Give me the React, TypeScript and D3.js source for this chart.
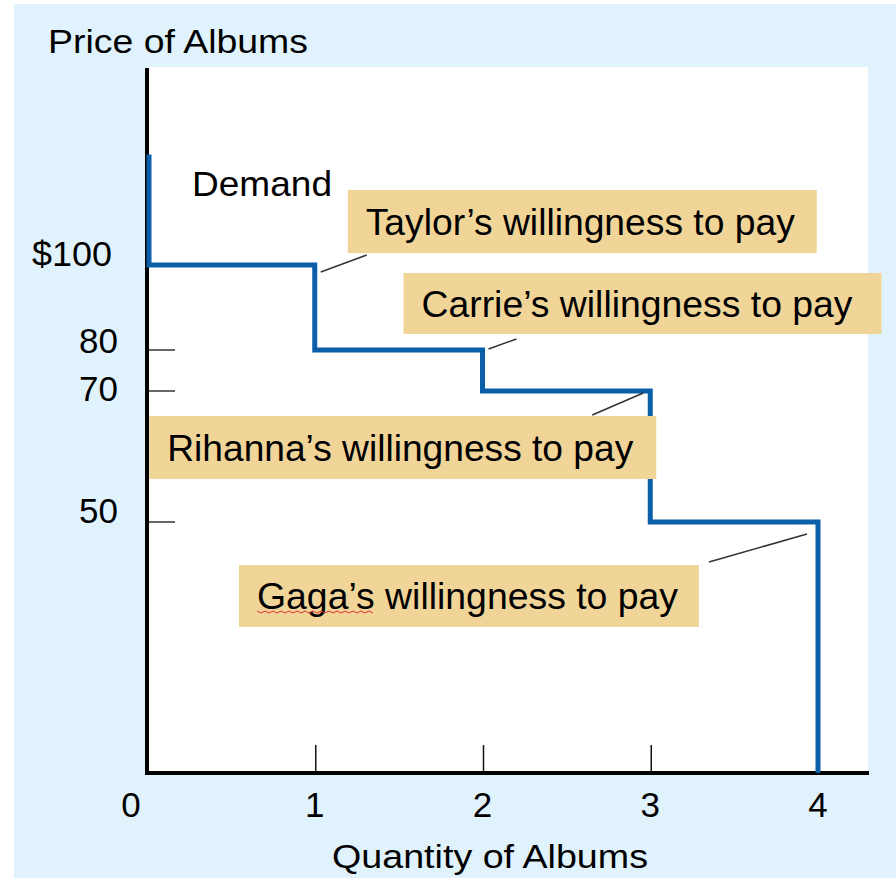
import React, { useEffect } from 'react';
import * as d3 from 'd3';

// Demand schedule: one album per buyer, ordered by willingness to pay
const buyers = ['Taylor', 'Carrie', 'Rihanna', 'Gaga'];
const willingness = [100, 80, 70, 50];
const quantityTicks = [0, 1, 2, 3, 4];
const priceTicks = [100, 80, 70, 50];
const priceTickLabels = ['$100', '80', '70', '50'];
const topPrice = 126; // where the demand curve starts above $100

// label placement relative to each step corner (layout only)
const labelLayout = [
  { dx: 33, dy: -75, w: 469, h: 63, tw: 429, lx1: 6, ly1: 7, lx2: 52, ly2: -10 },
  { dx: -79, dy: -77, w: 478, h: 61, tw: 431, lx1: 6, ly1: -1, lx2: 34, ly2: -11 },
  { dx: -501, dy: 25, w: 507, h: 63, tw: 466, lx1: -58, ly1: 24, lx2: -7, ly2: 2 },
  { dx: -579, dy: 43, w: 460, h: 62, tw: 421, lx1: -109, ly1: 40, lx2: -11, ly2: 12 },
];
const tickLabelNudge = [1, 3, 10, 1];

const FONT = '"Liberation Sans", Arial, Helvetica, sans-serif';
const BLUE = '#0a5fa8';
const TAN = '#f1d598';

const App: React.FC = () => {
  useEffect(() => {
    document.body.style.margin = '0';
  }, []);

  const x = d3.scaleLinear().domain([0, 4]).range([147, 818]);
  // the original figure is schematic: price spacing is not uniform
  const y = d3.scaleLinear().domain([0, 50, 70, 80, 100]).range([773, 522, 391, 350, 265]);

  const steps: [number, number][] = [[0, topPrice], ...willingness.map((p, i) => [i, p] as [number, number]), [4, 0]];
  const demandLine = d3.line<[number, number]>()
    .x(d => x(d[0]) + (d[0] === 0 ? 2 : 0))
    .y(d => y(d[1]))
    .curve(d3.curveStepAfter);

  // spell-check squiggle under "Gaga"
  const squiggle = d3.range(0, 30).map(i => [257 + i * 4, 612 + (i % 2 === 0 ? -1 : 1)] as [number, number]);

  return (
    <svg width={896} height={878} style={{ display: 'block', fontFamily: FONT }}>
      <rect x={14} y={4} width={882} height={874} fill="#e0f3fd" />
      <rect x={147} y={67} width={721} height={706} fill="#ffffff" />

      {/* y ticks */}
      {priceTicks.map((p, i) => (
        <g key={'yt' + p}>
          <line x1={149} x2={175} y1={y(p)} y2={y(p)} stroke="#333" strokeWidth={1.5} />
          <text x={i === 0 ? 112 : 118} y={y(p) + tickLabelNudge[i]} textAnchor="end" fontSize={35} fill="#000"
            textLength={i === 0 ? 80 : undefined} lengthAdjust="spacingAndGlyphs">{priceTickLabels[i]}</text>
        </g>
      ))}

      {/* x ticks */}
      {quantityTicks.map(q => (
        <g key={'xt' + q}>
          {q > 0 && <line x1={x(q) + 1} x2={x(q) + 1} y1={773} y2={745} stroke="#111" strokeWidth={1.5} />}
          <text x={q === 0 ? x(q) - 16 : x(q)} y={817} textAnchor="middle" fontSize={35} fill="#000">{q}</text>
        </g>
      ))}

      {/* axes */}
      <line x1={147} x2={147} y1={68} y2={775} stroke="#000" strokeWidth={4} />
      <line x1={145} x2={869} y1={773} y2={773} stroke="#000" strokeWidth={4} />

      {/* demand curve */}
      <path d={demandLine(steps) || ''} fill="none" stroke={BLUE} strokeWidth={5} strokeLinejoin="miter" />

      {/* labels */}
      {buyers.map((b, i) => {
        const L = labelLayout[i];
        const cx = x(i + 1);
        const cy = y(willingness[i]);
        return (
          <g key={b}>
            <line x1={cx + L.lx1} y1={cy + L.ly1} x2={cx + L.lx2} y2={cy + L.ly2} stroke="#333" strokeWidth={1.5} />
            <rect x={cx + L.dx} y={cy + L.dy} width={L.w} height={L.h} fill={TAN} />
            <text x={cx + L.dx + 18} y={cy + L.dy + L.h / 2 + 13} fontSize={36} fill="#000"
              textLength={L.tw} lengthAdjust="spacingAndGlyphs">
              {b}’s willingness to pay
            </text>
          </g>
        );
      })}

      <path d={d3.line()(squiggle) || ''} fill="none" stroke="#e03030" strokeWidth={1} />

      <text x={192} y={196} fontSize={35} fill="#000" textLength={140} lengthAdjust="spacingAndGlyphs">Demand</text>
      <text x={48} y={53} fontSize={34} fill="#000" textLength={260} lengthAdjust="spacingAndGlyphs">Price of Albums</text>
      <text x={332} y={868} fontSize={34} fill="#000" textLength={316} lengthAdjust="spacingAndGlyphs">Quantity of Albums</text>
    </svg>
  );
};

export default App;
